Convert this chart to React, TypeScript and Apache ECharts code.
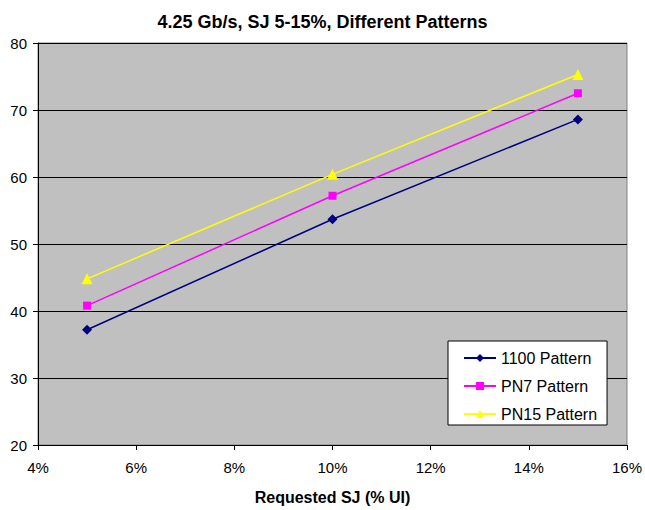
import React, { useEffect, useRef } from "react";
import * as echarts from "echarts";

// Requested sinusoidal jitter (% UI)
const sjPercent = [5, 10, 15];
// Measured results for each pattern
const pattern1100 = [37.2, 53.7, 68.6];
const patternPN7 = [40.8, 57.2, 72.5];
const patternPN15 = [44.8, 60.4, 75.3];

const seriesNames = ["1100 Pattern", "PN7 Pattern", "PN15 Pattern"];
const FONT = "'Liberation Sans', Arial, sans-serif";

function pairs(values: number[]) {
  return sjPercent.map((x, i) => [x, values[i]]);
}

export default function App() {
  const ref = useRef<HTMLDivElement>(null);

  useEffect(() => {
    if (!ref.current) return;
    const chart = echarts.init(ref.current, undefined, { renderer: "svg" });
    chart.setOption({
      animation: false,
      backgroundColor: "#ffffff",
      title: {
        text: "4.25 Gb/s, SJ 5-15%, Different Patterns",
        left: "center",
        top: 8,
        textStyle: { fontFamily: FONT, fontSize: 18, fontWeight: "bold", color: "#000" },
      },
      grid: {
        left: 38,
        right: 17,
        top: 43,
        bottom: 61,
        show: true,
        backgroundColor: "#C0C0C0",
        borderColor: "#808080",
        borderWidth: 1,
      },
      legend: {
        orient: "vertical",
        left: 448,
        top: 341,
        backgroundColor: "#ffffff",
        borderColor: "#000000",
        borderWidth: 1,
        borderRadius: 0,
        padding: [9, 10, 3, 15],
        itemGap: 12,
        itemWidth: 32,
        itemHeight: 10,
        textStyle: { fontFamily: FONT, fontSize: 16, color: "#000" },
        data: seriesNames,
      },
      xAxis: {
        type: "value",
        min: 4,
        max: 16,
        interval: 2,
        name: "Requested SJ (% UI)",
        nameLocation: "middle",
        nameGap: 44,
        nameTextStyle: { fontFamily: FONT, fontSize: 16, fontWeight: "bold", color: "#000" },
        axisLine: { show: true, lineStyle: { color: "#000", width: 1 } },
        axisTick: { show: true, inside: false, length: 5, lineStyle: { color: "#000" } },
        axisLabel: {
          fontFamily: FONT,
          fontSize: 15,
          color: "#000",
          margin: 15,
          formatter: (v: number) => `${v}%`,
        },
        splitLine: { show: false },
      },
      yAxis: {
        type: "value",
        min: 20,
        max: 80,
        interval: 10,
        axisLine: { show: true, lineStyle: { color: "#000", width: 1 } },
        axisTick: { show: true, inside: false, length: 5, lineStyle: { color: "#000" } },
        axisLabel: { fontFamily: FONT, fontSize: 15, color: "#000", margin: 11 },
        splitLine: { show: true, lineStyle: { color: "#000", width: 1 } },
      },
      series: [
        {
          name: seriesNames[0],
          type: "line",
          data: pairs(pattern1100),
          color: "#000080",
          symbol: "diamond",
          symbolSize: 10,
          lineStyle: { width: 1.5, color: "#000080" },
          itemStyle: { color: "#000080" },
        },
        {
          name: seriesNames[1],
          type: "line",
          data: pairs(patternPN7),
          color: "#FF00FF",
          symbol: "rect",
          symbolSize: 8,
          lineStyle: { width: 1.5, color: "#FF00FF" },
          itemStyle: { color: "#FF00FF" },
        },
        {
          name: seriesNames[2],
          type: "line",
          data: pairs(patternPN15),
          color: "#FFFF00",
          symbol: "triangle",
          symbolSize: 11,
          lineStyle: { width: 1.5, color: "#FFFF00" },
          itemStyle: { color: "#FFFF00" },
        },
      ],
    });
    return () => chart.dispose();
  }, []);

  return (
    <div
      ref={ref}
      style={{ position: "fixed", left: 0, top: 0, width: 645, height: 510 }}
    />
  );
}
